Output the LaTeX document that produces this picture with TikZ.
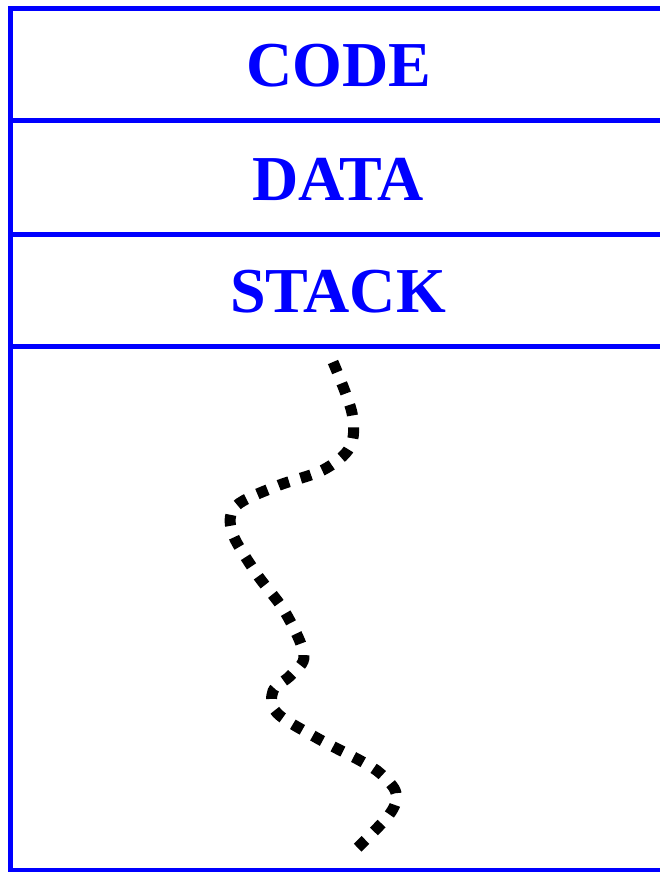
\documentclass[tikz,border=0pt]{standalone}
\usepackage{fontspec}
\setmainfont{Liberation Serif}
\definecolor{segblue}{RGB}{0,0,255}
\begin{document}
\begin{tikzpicture}[x=1pt,y=-1pt,
  segline/.style={draw=segblue,line width=5pt},
  seglabel/.style={text=segblue,font=\fontsize{64}{64}\selectfont\bfseries,anchor=base,inner sep=0pt},
  gap/.style={draw=black,line width=11pt,dash pattern=on 11pt off 12pt}]
\useasboundingbox (0,0) rectangle (659,872);
% memory segments
\draw[segline] (10,880) -- (10,8.5) -- (670,8.5);
\draw[segline] (10,121) -- (670,121);
\draw[segline] (10,234) -- (670,234);
\draw[segline] (10,346) -- (670,346);
\draw[segline] (10,870.5) -- (670,870.5);
\node[seglabel] (code) at (338.5,87) {CODE};
\node[seglabel] (data) at (338,200) {DATA};
\node[seglabel] (stack) at (338,312) {STACK};
% unused space between stack and heap
\draw[gap] plot[smooth,tension=0.55] coordinates {
  (333,362) (352,413) (350,447) (323,470) (277,486) (236,506) (232,532)
  (256,573) (285,612) (304,655) (291,675) (273,691) (277,713)
  (317,738) (361,761) (381,774) (396,793) (389,815) (350,855)};
\end{tikzpicture}
\end{document}
